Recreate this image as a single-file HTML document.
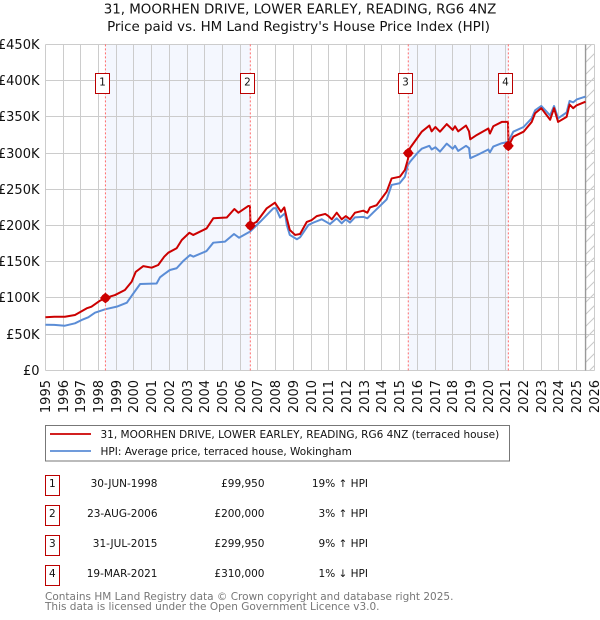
<!DOCTYPE html>
<html>
<head>
<meta charset="utf-8">
<title>31, Moorhen Drive price chart</title>
<style>
html,body{margin:0;padding:0;background:#fff;width:600px;height:620px;overflow:hidden}
svg{display:block}
text{font-family:"DejaVu Sans","Liberation Sans",sans-serif;fill:#111}
</style>
</head>
<body>
<svg id="chart" xmlns="http://www.w3.org/2000/svg" width="600" height="620" viewBox="0 0 600 620">
  <defs>
    <pattern id="hatch" patternUnits="userSpaceOnUse" width="12" height="12">
      <path d="M-3 15 L15 -3 M-3 3 L3 -3 M9 15 L15 9" stroke="#c8c8c8" stroke-width="1" fill="none"/>
    </pattern>
  </defs>
  <text x="300" y="13.5" text-anchor="middle" font-size="13.4">31, MOORHEN DRIVE, LOWER EARLEY, READING, RG6 4NZ</text>
  <text x="298.5" y="31" text-anchor="middle" font-size="13.4">Price paid vs. HM Land Registry's House Price Index (HPI)</text>
  <g id="bands"></g>
  <g id="grid"></g>
  <g id="series"></g>
  <g id="sales"></g>
  <g id="ticks"></g>

  <g>
    <rect x="45.5" y="425.5" width="464" height="35.5" fill="#fff" stroke="#777" stroke-width="1"/>
    <line x1="50" x2="91" y1="434" y2="434" stroke="#cc0000" stroke-width="1.8"/>
    <text x="100.5" y="437.8" font-size="10.5">31, MOORHEN DRIVE, LOWER EARLEY, READING, RG6 4NZ (terraced house)</text>
    <line x1="50" x2="91" y1="451" y2="451" stroke="#5b8dd6" stroke-width="1.8"/>
    <text x="100.5" y="454.8" font-size="10.5">HPI: Average price, terraced house, Wokingham</text>
  </g>

  <g id="sale-table"></g>

  <text x="45" y="600" font-size="10.5" style="fill:#777">Contains HM Land Registry data © Crown copyright and database right 2025.</text>
  <text x="45" y="610" font-size="10.5" style="fill:#777">This data is licensed under the Open Government Licence v3.0.</text>
</svg>
<script>
const yearTicks = [1995,1996,1997,1998,1999,2000,2001,2002,2003,2004,2005,2006,2007,2008,2009,2010,2011,2012,2013,2014,2015,2016,2017,2018,2019,2020,2021,2022,2023,2024,2025,2026];
const priceTicks = [0,50,100,150,200,250,300,350,400,450];
const priceTickLabels = ['£0','£50K','£100K','£150K','£200K','£250K','£300K','£350K','£400K','£450K'];

const hpiDates = [1995,1995.5,1996.1,1996.67,1997.05,1997.42,1997.8,1998.37,1999.03,1999.6,1999.9,2000.35,2001.28,2001.47,2001.71,2002.03,2002.41,2002.8,2003.17,2003.35,2004.1,2004.48,2005.14,2005.65,2005.93,2006.55,2007.12,2007.87,2008.02,2008.25,2008.53,2008.63,2008.8,2009.2,2009.38,2009.85,2010.13,2010.6,2011.07,2011.45,2011.73,2011.96,2012.2,2012.48,2012.95,2013.18,2013.5,2014.27,2014.55,2015,2015.3,2015.46,2015.59,2016,2016.25,2016.68,2016.81,2017.02,2017.28,2017.66,2018,2018.13,2018.31,2018.75,2018.92,2018.99,2019.36,2020.01,2020.1,2020.29,2020.77,2021.05,2021.14,2021.42,2022,2022.46,2022.65,2023,2023.5,2023.72,2023.95,2024.43,2024.6,2024.8,2025,2025.5];
const hpiValues = [63,62.8,61.7,65,69.6,73.3,79.7,84.3,88,93.5,104,119.3,120,128.5,133,138.6,141,151.4,159.3,157,164.8,176.3,177.7,188.3,183.2,191.5,205,223.8,224,211,217,200.7,187,181,183.7,200.7,204,208.6,202,210,203,208.6,204,211.3,212,210,217.7,236,256,258.3,267.4,283,288,300,306,310,305,308,302,313,306,310,303,310,307,293,297,305,301,309,313.6,315,316,329.5,336,348,359,365,352,365,348,356,372,370,374,378];

const paidDates = [1995,1995.5,1996.1,1996.67,1997.33,1997.6,1998.08,1998.37,1998.93,1999.49,1999.87,2000.1,2000.53,2001,2001.37,2001.71,2001.94,2002.41,2002.7,2003.13,2003.35,2004.1,2004.48,2005.24,2005.67,2005.9,2006.46,2006.55,2006.58,2006.93,2007.5,2007.96,2008.3,2008.49,2008.63,2008.8,2009.1,2009.38,2009.76,2010.04,2010.32,2010.8,2010.98,2011.17,2011.45,2011.73,2011.96,2012.2,2012.48,2012.95,2013.18,2013.33,2013.7,2014.27,2014.55,2015.02,2015.3,2015.46,2015.59,2016,2016.25,2016.68,2016.81,2017.02,2017.28,2017.66,2018,2018.13,2018.31,2018.75,2018.92,2018.99,2019.36,2020.01,2020.1,2020.29,2020.77,2021.05,2021.12,2021.15,2021.42,2022,2022.46,2022.65,2023,2023.5,2023.72,2023.95,2024.43,2024.6,2024.8,2025,2025.5];
const paidValues = [73.3,74,74.1,76.5,85.7,87.9,96.2,99.9,104,111,122.4,136,144,141.8,145.5,157,162.5,168.6,180,190,187,196,210,211,222.8,217.7,227,227,201,205,223.8,231.5,219,225,210,193.8,187,188.3,205,207.6,213,216,213,208.6,217.7,208.6,213,208.6,217.7,220.5,217.7,225,228,246.7,265,267.4,276.7,290.5,307,321,329.5,338,330,336,329.5,340,332,337,330,338,330,319,325,334,327,337,343,343,343,310,322.6,329.5,343,355,362,346,362,343,350,367,362,366,371];

const saleDates = [1998.39,2006.57,2015.49,2021.14];
const salePrices = [99.95,200,299.95,310];
const saleNumbers = ['1','2','3','4'];
const saleDateLabels = ['30-JUN-1998','23-AUG-2006','31-JUL-2015','19-MAR-2021'];
const salePriceLabels = ['£99,950','£200,000','£299,950','£310,000'];
const saleHpiLabels = ['19% ↑ HPI','3% ↑ HPI','9% ↑ HPI','1% ↓ HPI'];
const dataEndDate = 2025.5;

const NS = 'http://www.w3.org/2000/svg';
const xScale = d => 45.4 + (d - 1995) * 17.71;
const yScale = v => 370.4 - v * 0.7244;
const crisp = p => Math.round(p - 0.5) + 0.5;
function make(tag, parent, attrs, text) {
  const el = document.createElementNS(NS, tag);
  for (const k in attrs) el.setAttribute(k, attrs[k]);
  if (text !== undefined) el.textContent = text;
  parent.appendChild(el);
  return el;
}
const bands = document.getElementById('bands');
const grid = document.getElementById('grid');
const series = document.getElementById('series');
const sales = document.getElementById('sales');
const ticks = document.getElementById('ticks');
const table = document.getElementById('sale-table');

const plotL = xScale(1995), plotR = xScale(2026), plotT = yScale(450), plotB = yScale(0);

for (let i = 0; i + 1 < saleDates.length; i += 2) {
  const b = make('rect', bands, {x: xScale(saleDates[i]), y: plotT, width: xScale(saleDates[i + 1]) - xScale(saleDates[i]), height: plotB - plotT, fill: '#f4f7fe'});
  
  
}
const hatch = make('rect', bands, {x: xScale(dataEndDate), y: plotT, width: plotR - xScale(dataEndDate), height: plotB - plotT, fill: 'url(#hatch)'});



yearTicks.forEach(y => {
  const x = crisp(xScale(y));
  const l = make('line', grid, {x1: x, x2: x, y1: crisp(plotT), y2: crisp(plotB), stroke: '#cccccc', 'stroke-width': 1});
  
  
  const t = make('text', ticks, {'font-size': 13, 'text-anchor': 'end', transform: 'translate(' + (x + 4.5) + ',380) rotate(-90)'}, String(y));
  
  
});
priceTicks.forEach((v, i) => {
  const y = crisp(yScale(v));
  const l = make('line', grid, {x1: crisp(plotL), x2: crisp(plotR), y1: y, y2: y, stroke: '#cccccc', 'stroke-width': 1});
  
  
  const t = make('text', ticks, {x: 39.5, y: y + 4.5, 'font-size': 13, 'text-anchor': 'end'}, priceTickLabels[i]);
  
  
});
const endLine = make('line', grid, {x1: xScale(dataEndDate), x2: xScale(dataEndDate), y1: crisp(plotT), y2: crisp(plotB), stroke: '#999999', 'stroke-width': 1.4});



const toPoints = (dates, values) => dates.map((d, i) => xScale(d).toFixed(2) + ',' + yScale(values[i]).toFixed(2)).join(' ');
const hpiLine = make('polyline', series, {points: toPoints(hpiDates, hpiValues), fill: 'none', stroke: '#5b8dd6', 'stroke-width': 2, 'stroke-linejoin': 'round'});


const paidLine = make('polyline', series, {points: toPoints(paidDates, paidValues), fill: 'none', stroke: '#cc0000', 'stroke-width': 2, 'stroke-linejoin': 'round'});



saleDates.forEach((d, i) => {
  const x = xScale(d), y = yScale(salePrices[i]);
  const v = make('line', sales, {x1: x, x2: x, y1: plotT, y2: plotB, stroke: '#ff6b6b', 'stroke-width': 1, 'stroke-dasharray': '2 2'});
  
  
  const m = make('polygon', sales, {points: [[x, y - 5.5], [x + 5.5, y], [x, y + 5.5], [x - 5.5, y]].map(p => p.join(',')).join(' '), fill: '#cc0000'});
  
  
  const c = make('circle', sales, {cx: x, cy: y, r: 4.3, fill: '#cc0000'});
  
  
  const boxX = Math.round(x - 10) + 0.5;
  const b = make('rect', sales, {x: boxX, y: 73.5, width: 14, height: 20, fill: '#fff', stroke: '#bb0000', 'stroke-width': 1});
  
  
  const n = make('text', sales, {x: boxX + 7, y: 85.5, 'font-size': 10.5, 'text-anchor': 'middle'}, saleNumbers[i]);
  
  

  const top = 475.5 + i * 30;
  const rb = make('rect', table, {x: 45.5, y: top, width: 14, height: 20, fill: '#fff', stroke: '#bb0000', 'stroke-width': 1});
  
  
  const rn = make('text', table, {x: 52.3, y: top + 11.5, 'font-size': 10.5, 'text-anchor': 'middle'}, saleNumbers[i]);
  
  
  const td = make('text', table, {x: 157.5, y: top + 11.5, 'font-size': 10.5, 'text-anchor': 'end'}, saleDateLabels[i]);
  
  
  const tp = make('text', table, {x: 264.5, y: top + 11.5, 'font-size': 10.5, 'text-anchor': 'end'}, salePriceLabels[i]);
  
  
  const th = make('text', table, {x: 368, y: top + 11.5, 'font-size': 10.5, 'text-anchor': 'end'}, saleHpiLabels[i]);
  
  
});
</script>
</body>
</html>
